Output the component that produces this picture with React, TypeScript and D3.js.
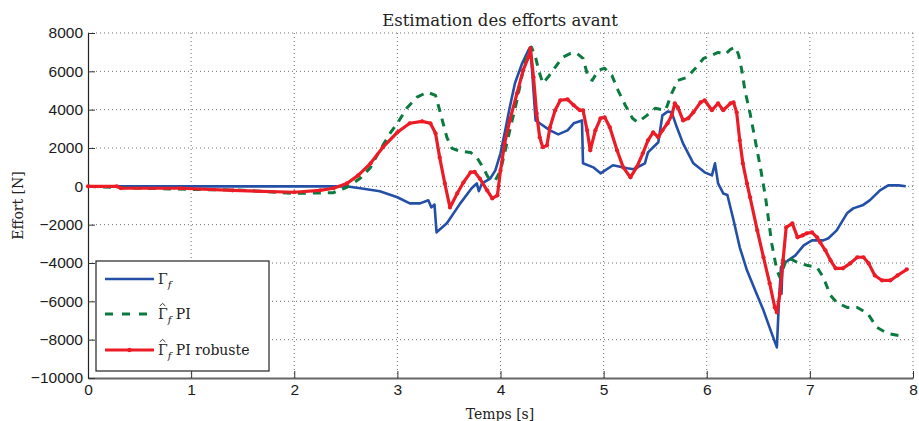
import React, { useEffect, useRef } from "react";
import * as d3 from "d3";

const W = 919;
const H = 421;

const xTicks = [0, 1, 2, 3, 4, 5, 6, 7, 8];
const yTicks = [-10000, -8000, -6000, -4000, -2000, 0, 2000, 4000, 6000, 8000];

const titleText = "Estimation des efforts avant";
const xLabel = "Temps [s]";
const yLabel = "Effort [N]";

// Γf (measured)
const blueT = [0, 2.5, 2.64, 2.83, 3.0, 3.12, 3.22, 3.3, 3.33, 3.36, 3.38, 3.48, 3.61, 3.72, 3.77, 3.79, 3.82, 3.9, 3.95, 4.0, 4.04, 4.09, 4.14, 4.21, 4.27, 4.29, 4.32, 4.34, 4.38, 4.48, 4.56, 4.65, 4.71, 4.79, 4.8, 4.9, 4.97, 5.09, 5.23, 5.29, 5.4, 5.43, 5.53, 5.57, 5.62, 5.66, 5.71, 5.77, 5.87, 5.98, 6.05, 6.08, 6.11, 6.16, 6.2, 6.26, 6.32, 6.39, 6.47, 6.55, 6.63, 6.68, 6.7, 6.72, 6.725, 6.735, 6.78, 6.86, 6.94, 7.02, 7.13, 7.18, 7.26, 7.36, 7.42, 7.51, 7.58, 7.68, 7.76, 7.86, 7.93];
const blueV = [0, 0, -100, -260, -570, -890, -890, -730, -1100, -950, -2400, -1930, -890, -100, 150, -250, 150, 400, 830, 1720, 2770, 4120, 5380, 6420, 7100, 7260, 5000, 3440, 3290, 2920, 2710, 2920, 3290, 3440, 1200, 990, 680, 1100, 940, 890, 1200, 1770, 2300, 3700, 3900, 3860, 3080, 2240, 1200, 730, 570, 1200, 150, -370, -450, -1770, -3180, -4380, -5430, -6470, -7670, -8400, -6000, -4200, -5600, -4000, -3900, -3600, -3080, -2820, -2820, -2710, -2300, -1410, -1150, -990, -730, -210, 50, 50, 0];

// Γ̂f PI
const greenT = [0, 0.5, 1.0, 1.5, 2.0, 2.38, 2.51, 2.64, 2.74, 2.83, 2.93, 3.0, 3.09, 3.19, 3.29, 3.37, 3.41, 3.48, 3.53, 3.61, 3.71, 3.77, 3.83, 3.88, 3.95, 4.0, 4.04, 4.09, 4.16, 4.22, 4.27, 4.3, 4.34, 4.37, 4.41, 4.46, 4.53, 4.6, 4.68, 4.74, 4.8, 4.85, 4.89, 4.95, 5.01, 5.08, 5.14, 5.21, 5.28, 5.33, 5.42, 5.5, 5.6, 5.66, 5.72, 5.81, 5.89, 5.97, 6.03, 6.11, 6.18, 6.23, 6.28, 6.31, 6.34, 6.37, 6.42, 6.47, 6.52, 6.57, 6.63, 6.68, 6.71, 6.78, 6.88, 6.97, 7.07, 7.13, 7.2, 7.26, 7.36, 7.46, 7.56, 7.65, 7.75, 7.9];
const greenV = [0, -100, -160, -200, -370, -330, -50, 420, 990, 1880, 2770, 3290, 4070, 4650, 4910, 4750, 3970, 2560, 1980, 1830, 1770, 1510, 990, 470, 310, 830, 1720, 2920, 4490, 6060, 7100, 7260, 6730, 6060, 5380, 5690, 6210, 6730, 6940, 6940, 6680, 5690, 5530, 6060, 6160, 5790, 5010, 4230, 3550, 3340, 3700, 4070, 3970, 4850, 5530, 5690, 6160, 6680, 6790, 6990, 6890, 7150, 7260, 6840, 6060, 5010, 3810, 2400, 990, -570, -2980, -4380, -4750, -3700, -3970, -4120, -4230, -4750, -5690, -6060, -6320, -6320, -6630, -7360, -7670, -7830];

// Γ̂f PI robuste
const redT = [0, 0.28, 0.32, 0.9, 1.4, 2.0, 2.25, 2.38, 2.51, 2.62, 2.74, 2.86, 3.0, 3.12, 3.24, 3.32, 3.37, 3.41, 3.46, 3.51, 3.58, 3.64, 3.71, 3.75, 3.8, 3.87, 3.92, 3.97, 4.0, 4.04, 4.09, 4.16, 4.22, 4.27, 4.29, 4.32, 4.35, 4.38, 4.41, 4.45, 4.48, 4.53, 4.58, 4.65, 4.71, 4.77, 4.8, 4.84, 4.87, 4.92, 4.97, 5.01, 5.06, 5.13, 5.19, 5.26, 5.32, 5.38, 5.43, 5.48, 5.53, 5.57, 5.62, 5.66, 5.69, 5.72, 5.77, 5.82, 5.87, 5.94, 5.98, 6.05, 6.11, 6.16, 6.23, 6.26, 6.29, 6.32, 6.35, 6.39, 6.42, 6.49, 6.55, 6.61, 6.66, 6.68, 6.71, 6.74, 6.77, 6.83, 6.88, 6.93, 6.97, 7.02, 7.07, 7.1, 7.15, 7.2, 7.25, 7.32, 7.39, 7.46, 7.52, 7.57, 7.63, 7.7, 7.78, 7.85, 7.94];
const redV = [0, 0, -100, -100, -210, -310, -210, -100, 150, 570, 1200, 2040, 2820, 3290, 3390, 3290, 2770, 1510, 150, -1100, -370, 200, 730, 750, 400, -210, -630, -470, 830, 2240, 3440, 4850, 6060, 6730, 7200, 5690, 3810, 2560, 2040, 2140, 3080, 3970, 4490, 4540, 4230, 3970, 3970, 2920, 1880, 2920, 3550, 3600, 3080, 1880, 990, 470, 990, 1720, 2400, 2820, 2560, 2920, 3290, 3700, 4330, 4120, 3440, 3550, 3860, 4380, 4490, 3970, 4330, 3970, 4330, 4380, 3860, 2400, 1200, 150, -570, -2300, -3700, -5060, -6320, -6580, -5590, -3860, -2140, -1930, -2660, -2560, -2450, -2400, -2660, -2920, -3340, -3860, -4280, -4280, -4020, -3700, -3700, -4020, -4650, -4910, -4910, -4650, -4330];

const legendLabels = ["\u0393", "\u0393", "\u0393"];
const legendHat = [false, true, true];
const legendSuffix = ["", " PI", " PI robuste"];

const BLUE = "#2350a6";
const GREEN = "#0b7a3e";
const RED = "#ec1c27";

export default function App() {
  const ref = useRef<SVGSVGElement>(null);

  useEffect(() => {
    const svg = d3.select(ref.current);
    svg.selectAll("*").remove();

    const x = d3.scaleLinear().domain([0, 8]).range([88, 913]);
    const y = d3.scaleLinear().domain([-10000, 8000]).range([378, 33]);

    // grid
    const grid = svg.append("g").attr("stroke", "#6f6f6f").attr("stroke-width", 1).attr("stroke-dasharray", "1,3");
    xTicks.slice(1).forEach((t) => {
      grid.append("line").attr("x1", x(t)).attr("x2", x(t)).attr("y1", y(-10000)).attr("y2", y(8000));
    });
    yTicks.slice(1).forEach((v) => {
      grid.append("line").attr("x1", x(0)).attr("x2", x(8)).attr("y1", y(v)).attr("y2", y(v));
    });

    // axes
    const fmt = (v: number) => (v < 0 ? "\u2212" + Math.abs(v) : String(v));
    const ax = svg.append("g").attr("transform", `translate(0,${y(-10000)})`)
      .call(d3.axisBottom(x).tickValues(xTicks).tickSizeInner(-7).tickSizeOuter(0).tickPadding(6).tickFormat((d: any) => String(d)));
    const ay = svg.append("g").attr("transform", `translate(${x(0)},0)`)
      .call(d3.axisLeft(y).tickValues(yTicks).tickSizeInner(-7).tickSizeOuter(0).tickPadding(5).tickFormat((d: any) => fmt(d)));
    [ax, ay].forEach((g) => {
      g.selectAll("text").attr("font-family", "'Liberation Sans', Arial, sans-serif").attr("font-size", 15.5).attr("fill", "#1a1a1a");
      g.selectAll("line").attr("stroke", "#333").attr("stroke-width", 1);
    });
    ax.select(".domain").attr("stroke", "#666").attr("stroke-width", 1.8);
    ay.select(".domain").attr("stroke", "#222").attr("stroke-width", 1.2);

    const mk = (T: number[], V: number[]) => T.map((t, i) => [t, V[i]] as [number, number]);
    const line = d3.line<[number, number]>().x((d) => x(d[0])).y((d) => y(d[1]));

    const plot = svg.append("g").attr("fill", "none").attr("stroke-linejoin", "round");
    plot.append("path").attr("d", line(mk(blueT, blueV))).attr("stroke", BLUE).attr("stroke-width", 2.6);
    plot.append("path").attr("d", line(mk(greenT, greenV))).attr("stroke", GREEN).attr("stroke-width", 3).attr("stroke-dasharray", "8,7");
    plot.append("path").attr("d", line(mk(redT, redV))).attr("stroke", RED).attr("stroke-width", 3.2);
    plot.selectAll("circle.m").data(mk(redT, redV)).enter().append("circle")
      .attr("cx", (d) => x(d[0])).attr("cy", (d) => y(d[1])).attr("r", 2.1).attr("fill", RED).attr("stroke", "none");

    const serif = "'DejaVu Serif', serif";
    // title
    svg.append("text").attr("x", 500).attr("y", 26).attr("text-anchor", "middle")
      .attr("font-family", serif).attr("font-size", 16.5).attr("fill", "#222").text(titleText);
    // x label
    svg.append("text").attr("x", 500).attr("y", 419).attr("text-anchor", "middle")
      .attr("font-family", serif).attr("font-size", 14).attr("fill", "#222").text(xLabel);
    // y label
    svg.append("text").attr("transform", `translate(23,${(y(8000) + y(-10000)) / 2}) rotate(-90)`).attr("text-anchor", "middle")
      .attr("font-family", serif).attr("font-size", 14).attr("fill", "#222").text(yLabel);

    // legend
    const lg = svg.append("g");
    lg.append("rect").attr("x", 96).attr("y", 261).attr("width", 173).attr("height", 110)
      .attr("fill", "white").attr("stroke", "#222").attr("stroke-width", 1.2);
    const ys = [279, 314, 350];
    const cols = [BLUE, GREEN, RED];
    ys.forEach((yy, i) => {
      const l = lg.append("line").attr("x1", 105).attr("x2", 154).attr("y1", yy).attr("y2", yy)
        .attr("stroke", cols[i]).attr("stroke-width", i === 0 ? 2.6 : 3);
      if (i === 1) l.attr("stroke-dasharray", "8,9");
      if (i === 2) lg.append("circle").attr("cx", 129.5).attr("cy", yy).attr("r", 2.2).attr("fill", RED);
      const t = lg.append("text").attr("x", 158).attr("y", yy + 5).attr("font-family", serif).attr("font-size", 14).attr("fill", "#222");
      t.append("tspan").text(legendLabels[i]);
      t.append("tspan").attr("font-style", "italic").attr("font-size", 10).attr("dy", 4).text("f");
      if (legendSuffix[i]) t.append("tspan").attr("dy", -4).text(legendSuffix[i]);
      if (legendHat[i]) {
        const cx = 162.6;
        const top = yy - 8;
        lg.append("path").attr("d", `M${cx - 2.8},${top} L${cx},${top - 2.6} L${cx + 2.8},${top}`)
          .attr("fill", "none").attr("stroke", "#222").attr("stroke-width", 0.9);
      }
    });
  }, []);

  return (
    <svg ref={ref} width={W} height={H} style={{ position: "absolute", left: 0, top: 0, background: "white" }} />
  );
}
